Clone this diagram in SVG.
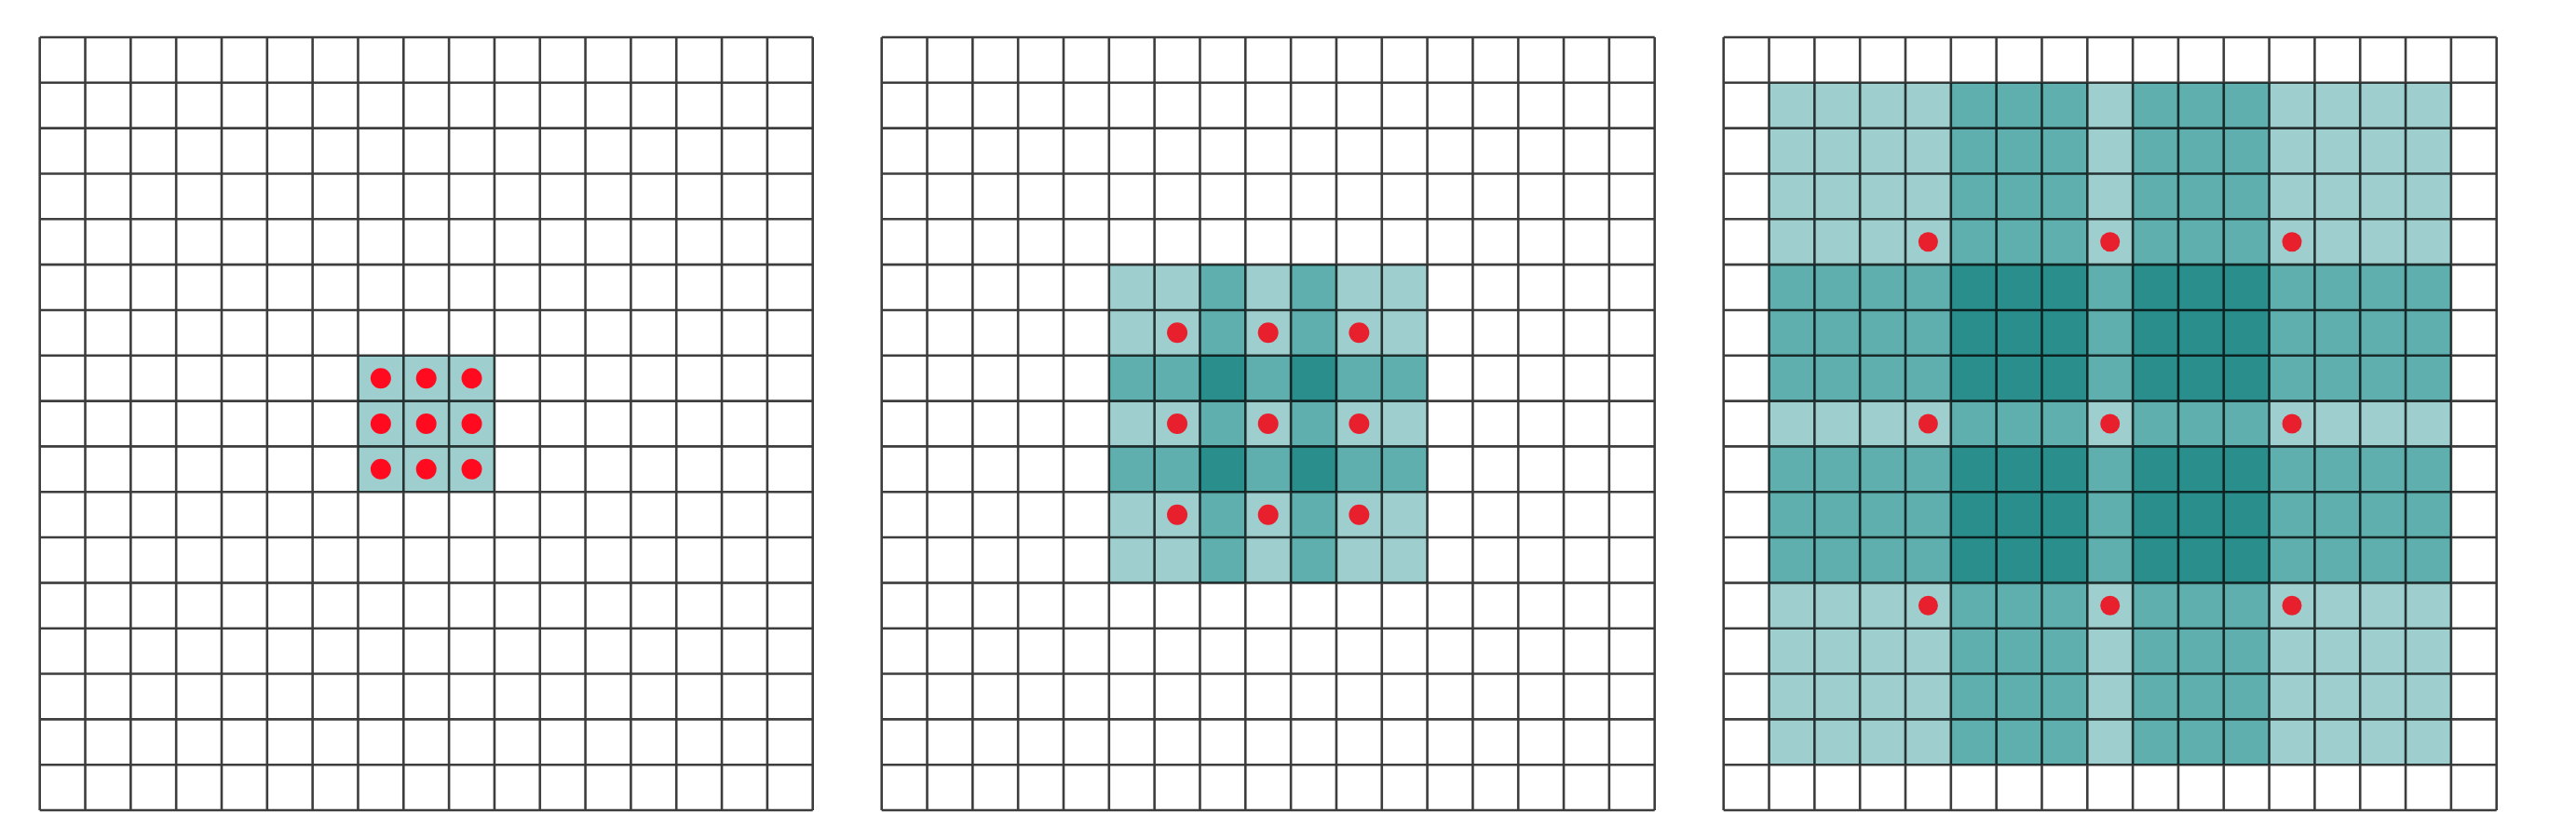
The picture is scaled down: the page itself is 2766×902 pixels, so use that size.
<svg xmlns="http://www.w3.org/2000/svg" xmlns:xlink="http://www.w3.org/1999/xlink" width="2766" height="902" viewBox="0 0 2766 902">
<style>
.l{fill:#9ECFCE}
.m{fill:#5FAFAE}
.d{fill:#2A8F8C}
.grid{fill:none;stroke:#000;stroke-opacity:0.76;stroke-width:2.6}
.r1{fill:#FF0A1E}
.r2{fill:#E8202E}
</style>
<defs>
<path id="grid" class="grid" d="M0 0V830M48.82 0V830M97.65 0V830M146.47 0V830M195.29 0V830M244.12 0V830M292.94 0V830M341.76 0V830M390.59 0V830M439.41 0V830M488.24 0V830M537.06 0V830M585.88 0V830M634.71 0V830M683.53 0V830M732.35 0V830M781.18 0V830M830 0V830M0 0H830M0 48.82H830M0 97.65H830M0 146.47H830M0 195.29H830M0 244.12H830M0 292.94H830M0 341.76H830M0 390.59H830M0 439.41H830M0 488.24H830M0 537.06H830M0 585.88H830M0 634.71H830M0 683.53H830M0 732.35H830M0 781.18H830M0 830H830"/>
</defs>
<rect width="2766" height="902" fill="#fff"/>

<g id="panel1" transform="translate(42.7 40)">
<g transform="scale(48.8235)">
<rect class="l" x="7" y="7" width="3" height="3"/>
</g>
<use xlink:href="#grid"/>
<g transform="scale(48.8235)" class="r1">
<circle cx="7.5" cy="7.5" r="0.225"/><circle cx="8.5" cy="7.5" r="0.225"/><circle cx="9.5" cy="7.5" r="0.225"/>
<circle cx="7.5" cy="8.5" r="0.225"/><circle cx="8.5" cy="8.5" r="0.225"/><circle cx="9.5" cy="8.5" r="0.225"/>
<circle cx="7.5" cy="9.5" r="0.225"/><circle cx="8.5" cy="9.5" r="0.225"/><circle cx="9.5" cy="9.5" r="0.225"/>
</g>
</g>

<g id="panel2" transform="translate(946.7 40)">
<g transform="scale(48.8235)">
<rect class="l" x="5" y="5" width="7" height="7"/>
<rect class="m" x="7" y="5" width="1" height="7"/>
<rect class="m" x="9" y="5" width="1" height="7"/>
<rect class="m" x="5" y="7" width="7" height="1"/>
<rect class="m" x="5" y="9" width="7" height="1"/>
<rect class="d" x="7" y="7" width="1" height="1"/>
<rect class="d" x="9" y="7" width="1" height="1"/>
<rect class="d" x="7" y="9" width="1" height="1"/>
<rect class="d" x="9" y="9" width="1" height="1"/>
</g>
<use xlink:href="#grid"/>
<g transform="scale(48.8235)" class="r2">
<circle cx="6.5" cy="6.5" r="0.225"/><circle cx="8.5" cy="6.5" r="0.225"/><circle cx="10.5" cy="6.5" r="0.225"/>
<circle cx="6.5" cy="8.5" r="0.225"/><circle cx="8.5" cy="8.5" r="0.225"/><circle cx="10.5" cy="8.5" r="0.225"/>
<circle cx="6.5" cy="10.5" r="0.225"/><circle cx="8.5" cy="10.5" r="0.225"/><circle cx="10.5" cy="10.5" r="0.225"/>
</g>
</g>

<g id="panel3" transform="translate(1850.7 40)">
<g transform="scale(48.8235)">
<rect class="l" x="1" y="1" width="15" height="15"/>
<rect class="m" x="5" y="1" width="3" height="15"/>
<rect class="m" x="9" y="1" width="3" height="15"/>
<rect class="m" x="1" y="5" width="15" height="3"/>
<rect class="m" x="1" y="9" width="15" height="3"/>
<rect class="d" x="5" y="5" width="3" height="3"/>
<rect class="d" x="9" y="5" width="3" height="3"/>
<rect class="d" x="5" y="9" width="3" height="3"/>
<rect class="d" x="9" y="9" width="3" height="3"/>
</g>
<use xlink:href="#grid"/>
<g transform="scale(48.8235)" class="r2">
<circle cx="4.5" cy="4.5" r="0.215"/><circle cx="8.5" cy="4.5" r="0.215"/><circle cx="12.5" cy="4.5" r="0.215"/>
<circle cx="4.5" cy="8.5" r="0.215"/><circle cx="8.5" cy="8.5" r="0.215"/><circle cx="12.5" cy="8.5" r="0.215"/>
<circle cx="4.5" cy="12.5" r="0.215"/><circle cx="8.5" cy="12.5" r="0.215"/><circle cx="12.5" cy="12.5" r="0.215"/>
</g>
</g>
</svg>
